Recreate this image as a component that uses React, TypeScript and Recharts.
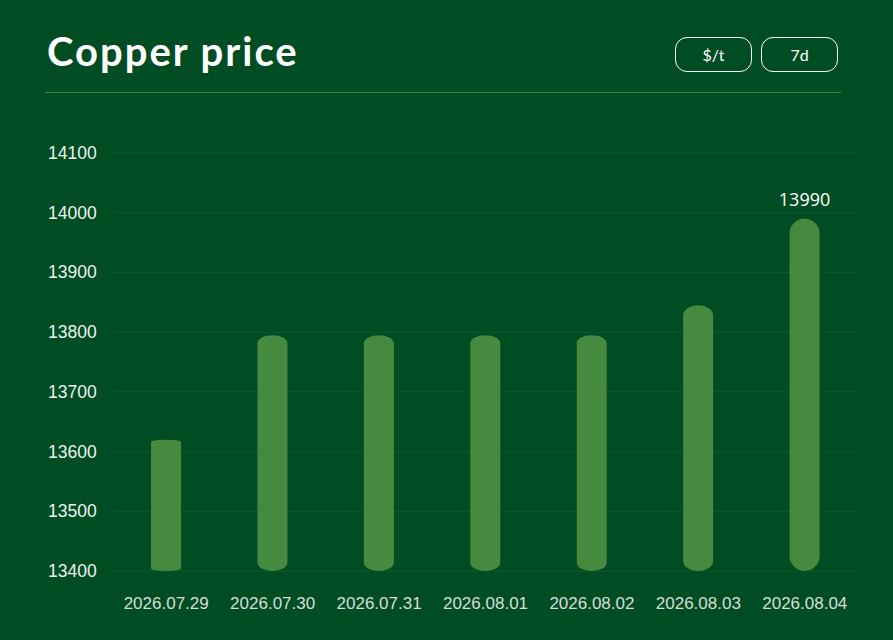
import { BarChart, Bar, XAxis, YAxis, CartesianGrid, LabelList } from "recharts";

const dates = ["2026.07.29", "2026.07.30", "2026.07.31", "2026.08.01", "2026.08.02", "2026.08.03", "2026.08.04"];
const prices = [13620, 13795, 13795, 13795, 13795, 13845, 13990];
const yTicks = [13400, 13500, 13600, 13700, 13800, 13900, 14000, 14100];
const units = ["$/t", "7d"];

const data = dates.map((date, i) => ({ date, price: prices[i] }));

const BG = "#004d24";
const BAR = "#468a40";

// capsule-ish bar: elliptical ends whose depth grows with the bar height
const PillBar = (props: any) => {
    const { x, y, width, height, fill } = props;
    if (!height || height <= 0) return null;
    const rx = width / 2;
    const ry = Math.min(rx, Math.max(1.5, (height - 87) * 0.057));
    const d = `M${x},${y + ry}
        A${rx},${ry} 0 0 1 ${x + width},${y + ry}
        L${x + width},${y + height - ry}
        A${rx},${ry} 0 0 1 ${x},${y + height - ry}Z`;
    return <path d={d} fill={fill} />;
};

const YTick = ({ y, payload }: any) => (
    <text x={48} y={y} textAnchor="start" dominantBaseline="central" fill="#eef3ee"
        style={{ fontFamily: "'Liberation Sans', Arial, sans-serif", fontSize: 17.5 }}>
        {payload.value}
    </text>
);

const XTick = ({ x, payload }: any) => (
    <text x={x} y={603} textAnchor="middle" dominantBaseline="central" fill="#d6ded6"
        style={{ fontFamily: "'Liberation Sans', Arial, sans-serif", fontSize: 17 }}>
        {payload.value}
    </text>
);

const TopLabel = (props: any) => {
    const { x, y, width, value, index } = props;
    if (index !== prices.length - 1) return null;
    return (
        <text x={x + width / 2} y={y - 20} textAnchor="middle" dominantBaseline="central" fill="#ffffff"
            style={{ fontFamily: "'Open Sans', sans-serif", fontSize: 18 }}>
            {value}
        </text>
    );
};

export default function App() {
    return (
        <div style={{ position: "fixed", left: 0, top: 0, width: 893, height: 640, background: BG, overflow: "hidden" }}>
            <div style={{
                position: "absolute", left: 47, top: 27, color: "#ffffff",
                fontFamily: "Lato, sans-serif", fontWeight: 700, fontSize: 40, letterSpacing: 2,
            }}>
                Copper price
            </div>
            <div style={{ position: "absolute", left: 675, top: 37, display: "flex", gap: 9 }}>
                {units.map((u) => (
                    <div key={u} style={{
                        width: 75, height: 33, border: "1px solid #ffffff", borderRadius: 12,
                        color: "#ffffff", fontFamily: "Lato, sans-serif", fontWeight: 400, fontSize: 16,
                        display: "flex", alignItems: "center", justifyContent: "center",
                    }}>{u}</div>
                ))}
            </div>
            <div style={{ position: "absolute", left: 45, top: 92, width: 796, height: 1, background: "#3a8a3c" }} />
            <div style={{ position: "absolute", left: 0, top: 0 }}>
                <BarChart width={893} height={640} data={data}
                    margin={{ top: 153, right: 35, bottom: 39, left: 0 }}>
                    <CartesianGrid vertical={false} stroke="#0b5a2e" strokeWidth={1} />
                    <XAxis dataKey="date" axisLine={false} tickLine={false} height={30} tick={<XTick />} interval={0} />
                    <YAxis domain={[13400, 14100]} ticks={yTicks} axisLine={false} tickLine={false}
                        width={113} tick={<YTick />} allowDataOverflow />
                    <Bar dataKey="price" fill={BAR} barSize={30} shape={<PillBar />} isAnimationActive={false}>
                        <LabelList dataKey="price" content={<TopLabel />} />
                    </Bar>
                </BarChart>
            </div>
        </div>
    );
}
